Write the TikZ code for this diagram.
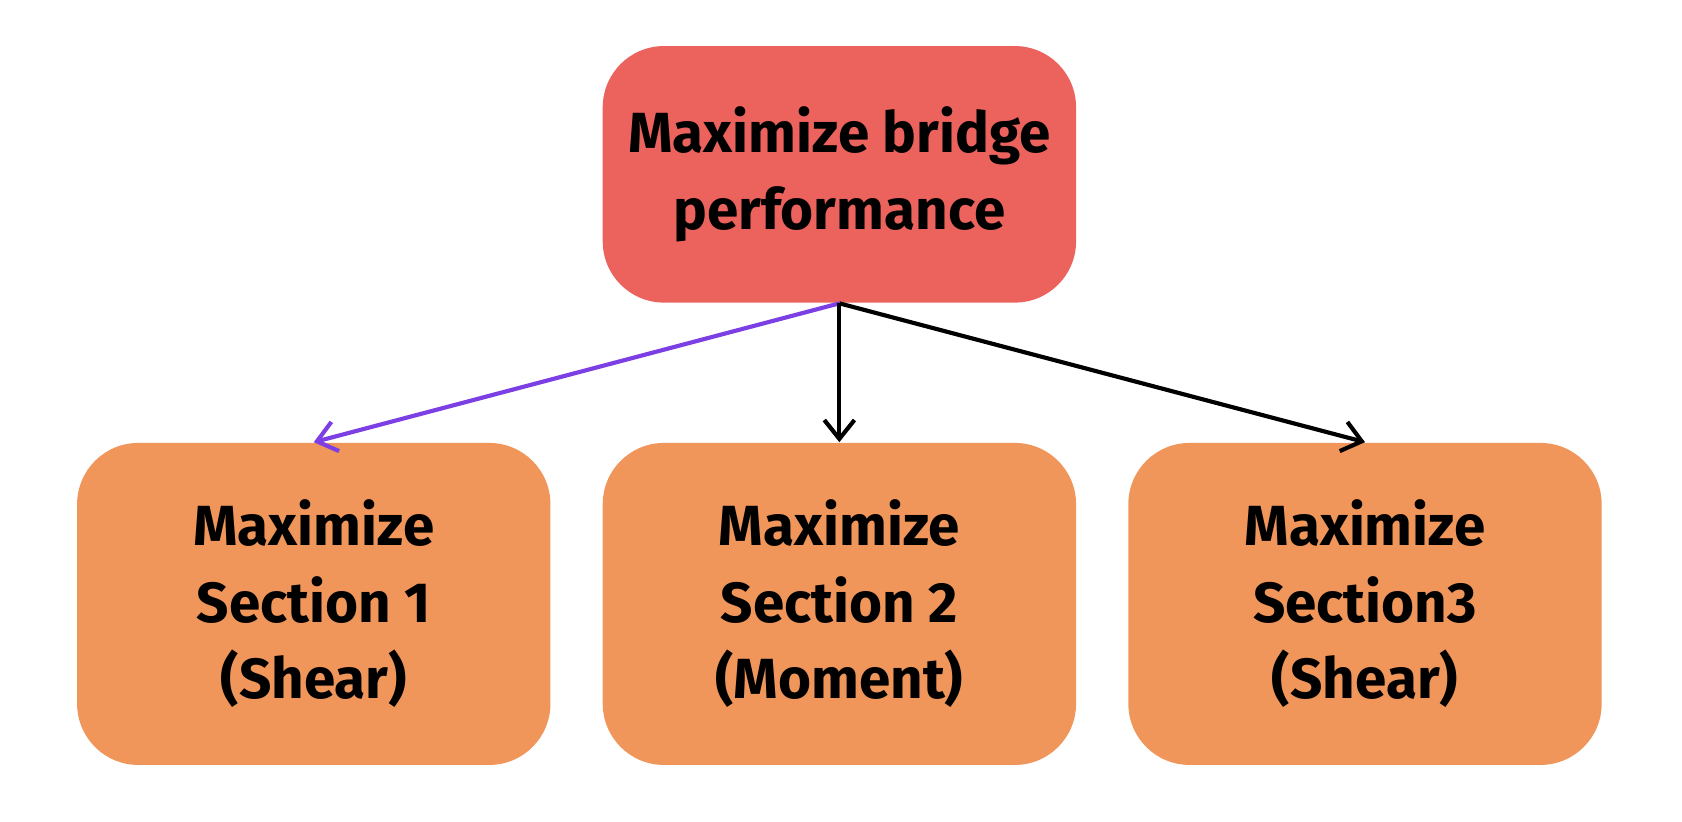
\documentclass[tikz,border=0pt]{standalone}
\usepackage{fontspec}
\setmainfont{Fira Sans}[UprightFont=* Bold]
\usetikzlibrary{arrows.meta}
\definecolor{topc}{HTML}{EC635D}
\definecolor{botc}{HTML}{F0965A}
\definecolor{purp}{HTML}{7B3FE4}
\begin{document}
\begin{tikzpicture}[x=0.01cm,y=-0.01cm,
  box/.style={rounded corners=0.57cm,inner sep=0pt,align=center,font=\fontsize{15}{20.3}\selectfont},
  conn/.style={line width=1.1pt,-{Straight Barb[length=5pt,width=8pt]}}]
\useasboundingbox (0,0) rectangle (1568,766);
\node[box,fill=topc,minimum width=4.41cm,minimum height=2.39cm] (top) at (782.5,162.5) {Maximize bridge\\performance};
\node[box,fill=botc,minimum width=4.41cm,minimum height=3.0cm] (b1) at (292.5,563) {Maximize\\Section 1\\(Shear)};
\node[box,fill=botc,minimum width=4.41cm,minimum height=3.0cm] (b2) at (782.5,563) {Maximize\\Section 2\\(Moment)};
\node[box,fill=botc,minimum width=4.41cm,minimum height=3.0cm] (b3) at (1272.5,563) {Maximize\\Section3\\(Shear)};
\coordinate (s) at (top.south);
\draw[conn,purp] (s) -- (b1.north);
\draw[conn] (s) -- (b2.north);
\draw[conn] (s) -- (b3.north);
\end{tikzpicture}
\end{document}
